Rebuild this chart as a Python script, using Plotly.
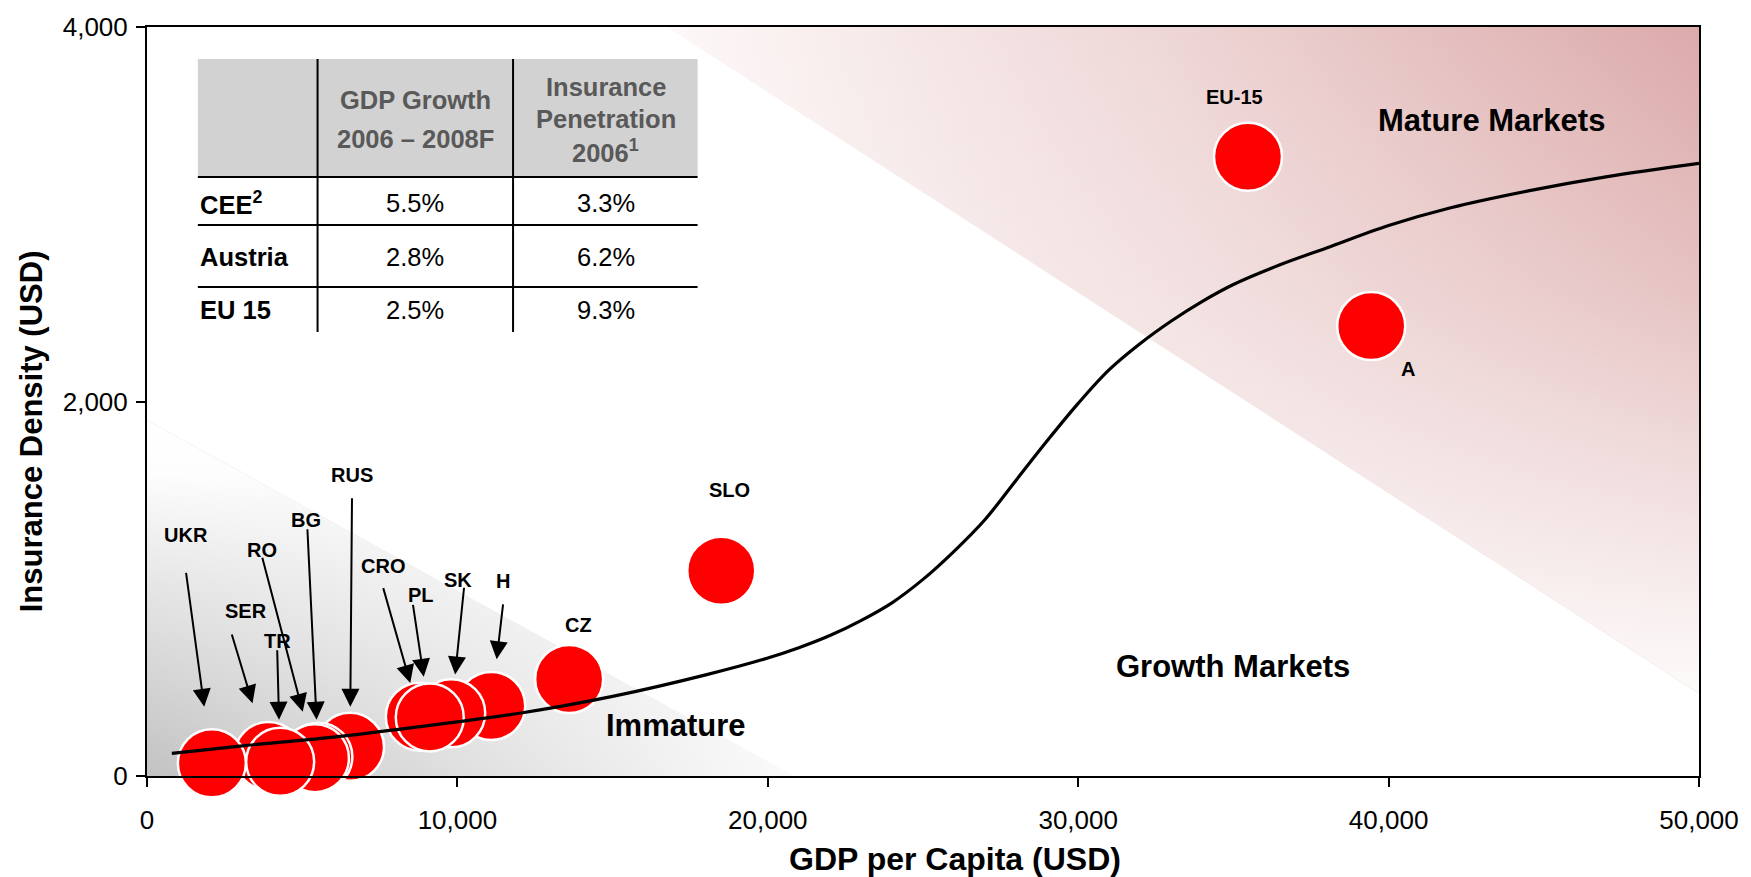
import plotly.graph_objects as go

# ---------------- data ----------------
COUNTRIES = ["EU-15", "A", "SLO", "CZ", "H", "SK", "CRO", "PL",
             "RUS", "BG", "RO", "SER", "TR", "UKR"]
GDP_PER_CAPITA = [35470, 39440, 18500, 13600, 11090, 9800, 8790, 9110,
                  6540, 5520, 5410, 3910, 4290, 2090]
INSURANCE_DENSITY = [3307, 2403, 1096, 518, 374, 335, 317, 313,
                     156, 103, 95, 107, 76, 68]

CURVE_GDP = [800, 3000, 6000, 9000, 12000, 15000, 18000, 20000, 21000, 22000,
             23000, 24000, 25000, 26000, 27000, 28000, 29000, 30000, 31000,
             32000, 33000, 34000, 35000, 36500, 38000, 40000, 42000, 44500,
             47000, 50000]
CURVE_DENSITY = [121, 160, 208, 268, 335, 425, 540, 630, 685, 750,
                 830, 925, 1050, 1200, 1370, 1580, 1790, 1990, 2170,
                 2310, 2430, 2535, 2625, 2730, 2820, 2940, 3035, 3125,
                 3200, 3272]

MATURE_ZONE_GDP = [16750, 50000, 50000, 16750]
MATURE_ZONE_DENSITY = [4000, 4000, 440, 4000]
IMMATURE_ZONE_GDP = [0, 0, 20860, 0]
IMMATURE_ZONE_DENSITY = [1900, 0, 0, 1900]

REGION_LABELS = ["Mature Markets", "Growth Markets", "Immature"]
REGION_GDP = [43330, 35000, 17040]
REGION_DENSITY = [3500, 584, 272]

TABLE_HEADER_GDP = ["GDP Growth", "2006 – 2008F"]
TABLE_HEADER_PEN = ["Insurance", "Penetration", "2006<sup>1</sup>"]
TABLE_ROWS = ["CEE<sup>2</sup>", "Austria", "EU 15"]
GDP_GROWTH = ["5.5%", "2.8%", "2.5%"]
INSURANCE_PENETRATION = ["3.3%", "6.2%", "9.3%"]

X_TICKS = [0, 10000, 20000, 30000, 40000, 50000]
Y_TICKS = [0, 2000, 4000]

# ---------------- layout / style ----------------
W, H = 1751, 877
ML, MR, MT, MB = 147, 48, 27, 101
PW, PH = W - ML - MR, H - MT - MB
FONT = "Liberation Sans, Arial, Helvetica, sans-serif"

# label offsets (pixels) relative to each bubble centre
LABEL_OFFSETS = {
    "UKR": (-26, 228), "SER": (-22, 145), "TR": (-3, 121), "RO": (-53, 208),
    "BG": (-12, 237), "RUS": (2, 272), "CRO": (-37, 151), "PL": (-9, 122),
    "SK": (7, 133), "H": (12, 125), "CZ": (9, 54), "SLO": (8, 81),
    "EU-15": (-13, 60), "A": (37, -43),
}
# arrow tails (pixels relative to bubble centre) and standoff of the tip
ARROWS = {
    "UKR": (-26, -192, 57), "SER": (-37, -123, 55), "TR": (-3, -113, 42),
    "RO": (-53, -202, 48), "BG": (-11, -229, 37), "RUS": (2, -250, 40),
    "CRO": (-37, -130, 35), "PL": (-17, -114, 41), "SK": (13, -127, 39),
    "H": (12, -103, 47),
}


def px(xf):
    return (xf - ML) / PW


def py(yf):
    return (H - MB - yf) / PH


fig = go.Figure()

# background zones
fig.add_trace(go.Scatter(
    x=IMMATURE_ZONE_GDP, y=IMMATURE_ZONE_DENSITY, mode="lines", fill="toself",
    line=dict(width=0), hoverinfo="skip",
    fillgradient=dict(type="horizontal",
                      colorscale=[[0, "#c2c2c2"], [0.5, "#e0e0e0"], [1, "#fbfbfb"]])))
fig.add_trace(go.Scatter(
    x=IMMATURE_ZONE_GDP, y=IMMATURE_ZONE_DENSITY, mode="lines", fill="toself",
    line=dict(width=0), hoverinfo="skip",
    fillgradient=dict(type="vertical",
                      colorscale=[[0, "rgba(255,255,255,0)"], [0.55, "rgba(255,255,255,0.6)"],
                                  [0.85, "rgba(255,255,255,0.97)"], [1, "rgba(255,255,255,1)"]])))
fig.add_trace(go.Scatter(
    x=MATURE_ZONE_GDP, y=MATURE_ZONE_DENSITY, mode="lines", fill="toself",
    line=dict(width=0), hoverinfo="skip",
    fillgradient=dict(type="horizontal",
                      colorscale=[[0, "#fdf8f8"], [0.5, "#eed5d5"], [1, "#dcaaaa"]])))
fig.add_trace(go.Scatter(
    x=MATURE_ZONE_GDP, y=MATURE_ZONE_DENSITY, mode="lines", fill="toself",
    line=dict(width=0), hoverinfo="skip",
    fillgradient=dict(type="vertical",
                      colorscale=[[0, "rgba(255,255,255,0.95)"], [0.6, "rgba(255,255,255,0.3)"],
                                  [1, "rgba(255,255,255,0)"]])))

# bubbles
fig.add_trace(go.Scatter(
    x=GDP_PER_CAPITA, y=INSURANCE_DENSITY, mode="markers", text=COUNTRIES,
    marker=dict(size=68, color="#ff0000", line=dict(color="white", width=2.5)),
    cliponaxis=False, hovertemplate="%{text}: %{x}, %{y}<extra></extra>"))

# S-curve
fig.add_trace(go.Scatter(
    x=CURVE_GDP, y=CURVE_DENSITY, mode="lines",
    line=dict(color="black", width=3.2, shape="spline", smoothing=1.0),
    hoverinfo="skip", cliponaxis=False))

ann = []
# country labels and arrows
for c, gx, gy in zip(COUNTRIES, GDP_PER_CAPITA, INSURANCE_DENSITY):
    dx, dy = LABEL_OFFSETS[c]
    ann.append(dict(x=gx, y=gy, xref="x", yref="y", text="<b>%s</b>" % c, showarrow=False,
                    xanchor="center", yanchor="middle",
                    xshift=dx, yshift=dy, font=dict(family=FONT, size=20, color="black")))
    if c in ARROWS:
        ax, ay, so = ARROWS[c]
        ann.append(dict(x=gx, y=gy, xref="x", yref="y", text="", showarrow=True,
                        ax=ax, ay=ay, standoff=so, arrowhead=2, arrowsize=1.8,
                        arrowwidth=2, arrowcolor="black"))
# region labels
for t, gx, gy in zip(REGION_LABELS, REGION_GDP, REGION_DENSITY):
    ann.append(dict(x=gx, y=gy, xref="x", yref="y", text="<b>%s</b>" % t, showarrow=False,
                    xanchor="center", yanchor="middle",
                    font=dict(family=FONT, size=31, color="black")))

# axis titles
ann.append(dict(x=px(957), y=py(859), xref="paper", yref="paper", showarrow=False,
                xanchor="center", yanchor="middle",
                text="<b>GDP per Capita (USD)</b>", font=dict(family=FONT, size=32, color="black")))
ann.append(dict(x=px(31), y=py(431), xref="paper", yref="paper", showarrow=False, textangle=-90,
                xanchor="center", yanchor="middle",
                text="<b>Insurance Density (USD)</b>", font=dict(family=FONT, size=31, color="black")))

# table
T_LEFT, T_C1, T_C2, T_RIGHT = 198, 318, 514, 699
T_TOP, T_HEAD, T_R1, T_R2, T_BOT = 59, 177, 225, 287, 332
C1_MID, C2_MID = 416, 607
HEAD_GDP_Y = [100, 139]
HEAD_PEN_Y = [87, 119, 151]
ROW_Y = [203, 257, 310]
TFS = 25.5

shapes = [
    dict(type="rect", xref="paper", yref="paper", x0=px(T_LEFT), x1=px(T_RIGHT),
         y0=py(T_HEAD), y1=py(T_TOP), fillcolor="#d2d2d2", line=dict(width=0), layer="above"),
]
for xv in (T_C1, T_C2):
    shapes.append(dict(type="line", xref="paper", yref="paper", x0=px(xv), x1=px(xv),
                       y0=py(T_BOT), y1=py(T_TOP), line=dict(color="black", width=2)))
for yv in (T_HEAD, T_R1, T_R2):
    shapes.append(dict(type="line", xref="paper", yref="paper", x0=px(T_LEFT), x1=px(T_RIGHT),
                       y0=py(yv), y1=py(yv), line=dict(color="black", width=2)))


def cell(x, y, text, color="black", anchor="center"):
    return dict(x=px(x), y=py(y), xref="paper", yref="paper", showarrow=False,
                xanchor=anchor, yanchor="middle", text=text,
                font=dict(family=FONT, size=TFS, color=color))


for t, yv in zip(TABLE_HEADER_GDP, HEAD_GDP_Y):
    ann.append(cell(C1_MID, yv, "<b>%s</b>" % t, "#595959"))
for t, yv in zip(TABLE_HEADER_PEN, HEAD_PEN_Y):
    ann.append(cell(C2_MID, yv, "<b>%s</b>" % t, "#595959"))
for r, g, p, yv in zip(TABLE_ROWS, GDP_GROWTH, INSURANCE_PENETRATION, ROW_Y):
    ann.append(cell(T_LEFT, yv, "<b>%s</b>" % r, anchor="left"))
    ann.append(cell(C1_MID, yv, g))
    ann.append(cell(C2_MID, yv, p))

axis_common = dict(showgrid=False, zeroline=False, showline=True, linecolor="black",
                   linewidth=2, mirror=True, ticks="outside", ticklen=9, tickwidth=2,
                   tickcolor="black", tickformat=",d",
                   tickfont=dict(family=FONT, size=26, color="black"))

fig.update_layout(
    width=W, height=H, margin=dict(l=ML, r=MR, t=MT, b=MB, pad=0),
    paper_bgcolor="white", plot_bgcolor="white", showlegend=False,
    xaxis=dict(range=[0, 50000], tickvals=X_TICKS, ticklabelstandoff=11, **axis_common),
    yaxis=dict(range=[0, 4000], tickvals=Y_TICKS, ticklabelstandoff=3, **axis_common),
    annotations=ann, shapes=shapes,
)

fig.write_html("out.html", config={"displayModeBar": False},
               post_script="document.body.style.margin='0px';document.body.style.overflow='hidden';")
